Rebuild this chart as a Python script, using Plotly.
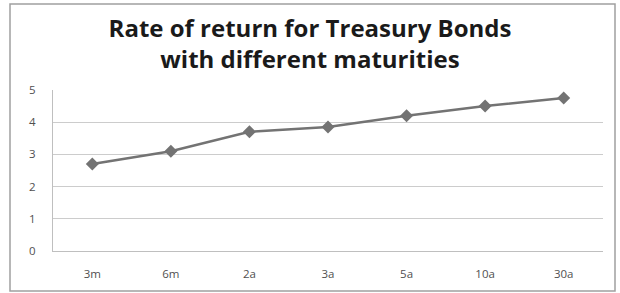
import plotly.graph_objects as go

categories = ["3m", "6m", "2a", "3a", "5a", "10a", "30a"]
rates = [2.7, 3.1, 3.7, 3.85, 4.2, 4.5, 4.75]
y_ticks = [0, 1, 2, 3, 4, 5]
title_text = "<b>Rate of return for Treasury Bonds<br>with different maturities</b>"

L, R, T, B = 53, 17, 90, 42
W, H = 620, 293
pw, ph = W - L - R, H - T - B

def px_x(p):
    return (p - L) / pw

def px_y(p):
    return (H - B - p) / ph

fig = go.Figure()
fig.add_trace(go.Scatter(
    x=categories, y=rates, mode="lines+markers",
    line=dict(color="#737373", width=2.5),
    marker=dict(symbol="diamond", size=10, color="#737373"),
    showlegend=False, cliponaxis=False,
))

fig.update_layout(
    width=W, height=H,
    margin=dict(l=L, r=R, t=T, b=B),
    paper_bgcolor="white", plot_bgcolor="white",
    title=dict(text=title_text, x=0.5, xanchor="center", y=1 - 37 / H, yanchor="middle",
               font=dict(family="Open Sans", size=24, color="#1a1a1a")),
    xaxis=dict(type="category", range=[-0.5, 6.5], showgrid=False,
               showline=True, linecolor="#bfbfbf", linewidth=1,
               ticks="", tickfont=dict(family="Open Sans", size=11.5, color="#505050"),
               ticklabelstandoff=12),
    yaxis=dict(range=[0, 5], tickvals=y_ticks, showgrid=True,
               gridcolor="#cccccc", gridwidth=1, zeroline=False,
               showline=True, linecolor="#bfbfbf", linewidth=1,
               ticks="", tickfont=dict(family="Open Sans", size=11.5, color="#505050"),
               ticklabelstandoff=14),
    shapes=[dict(type="rect", xref="paper", yref="paper",
                 x0=px_x(10), x1=px_x(615), y0=px_y(291), y1=px_y(4),
                 line=dict(color="#a0a0a0", width=1.5), layer="below")],
)

fig.write_html("out.html", config={"displayModeBar": False},
               post_script="document.body.style.margin='0';document.body.style.padding='0';")
